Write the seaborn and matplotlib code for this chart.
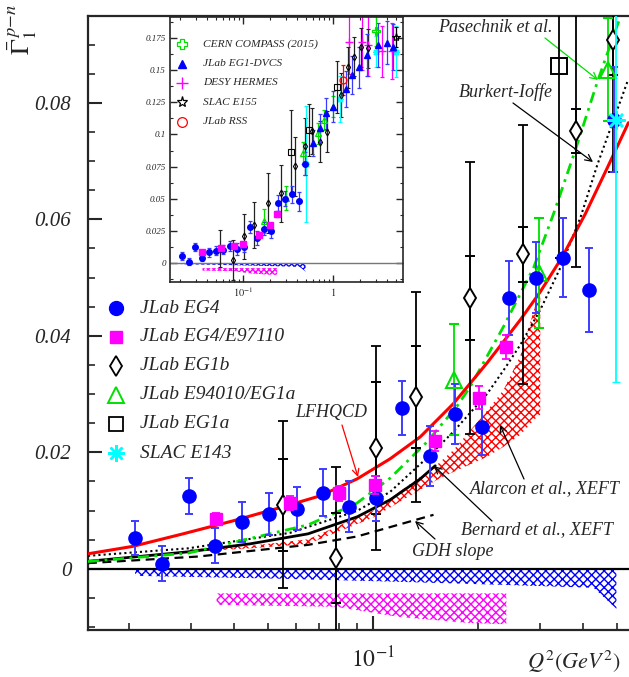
import numpy as np
import pandas as pd
import matplotlib
matplotlib.use("Agg")
import matplotlib.pyplot as plt
from matplotlib.ticker import FixedLocator, FixedFormatter, NullFormatter
from matplotlib.lines import Line2D
import seaborn as sns

# ---------------- main-plot data ----------------
eg4_x = [0.0208, 0.0249, 0.0297, 0.0352, 0.0421, 0.0503, 0.0603, 0.0716, 0.0855, 0.102,
         0.121, 0.145, 0.172, 0.205, 0.245, 0.293, 0.349, 0.416, 0.490]
eg4_y = [0.0053, 0.0009, 0.0125, 0.0040, 0.0080, 0.0094, 0.0103, 0.0131, 0.0107, 0.0121,
         0.0276, 0.0194, 0.0266, 0.0244, 0.0465, 0.0500, 0.0534, 0.0478, 0.0771]
eg4_e = [0.0029, 0.0030, 0.0031, 0.0030, 0.0034, 0.0036, 0.0037, 0.0040, 0.0043, 0.0039,
         0.0046, 0.0052, 0.0051, 0.0048, 0.0063, 0.0061, 0.0068, 0.0072, 0.0090]

e97_x = [0.0354, 0.0576, 0.080, 0.1015, 0.1505, 0.2008, 0.240]
e97_y = [0.0085, 0.0113, 0.0130, 0.0144, 0.0220, 0.0294, 0.0381]
e97_e = [0.0010, 0.0012, 0.0013, 0.0015, 0.0017, 0.0019, 0.0021]

eg1b_x = [0.0552, 0.0783, 0.102, 0.1328, 0.1888, 0.2682, 0.3817, 0.485]
eg1b_y = [0.0110, 0.0019, 0.0207, 0.0295, 0.0465, 0.0540, 0.0751, 0.0907]
eg1b_stat = [0.0079, 0.0077, 0.0113, 0.0088, 0.0072, 0.0047, 0.0038, 0.0060]
eg1b_tot = [0.0143, 0.0156, 0.0175, 0.0181, 0.0234, 0.0222, 0.0233, 0.0225]

e94010_x = [0.1707, 0.299, 0.469]
e94010_y = [0.0325, 0.0508, 0.0857]
e94010_e = [0.0096, 0.0094, 0.0088]

eg1a_x = [0.3396]
eg1a_y = [0.0864]
eg1a_e = [0.033]

e143_x = [0.497]
e143_y = [0.0771]
e143_e = [0.045]

# ---------------- theory curves ----------------
lf_x = [0.01525, 0.0205, 0.02855, 0.0397, 0.0552, 0.0705, 0.0900, 0.1118, 0.1364, 0.1695,
        0.2120, 0.2638, 0.3009, 0.3479, 0.4050, 0.4681, 0.538]
lf_y = [0.00258, 0.00386, 0.00601, 0.00824, 0.01065, 0.01253, 0.01545, 0.01889, 0.02266, 0.02833,
        0.03537, 0.04275, 0.04756, 0.05357, 0.06095, 0.06885, 0.07658]

bern_x = [0.01525, 0.02951, 0.0444, 0.0651, 0.0900, 0.1118, 0.1364, 0.1505]
bern_y = [0.00129, 0.00292, 0.00429, 0.00601, 0.00893, 0.01185, 0.01545, 0.01769]

gdh_x = [0.01525, 0.0315, 0.0651, 0.0898, 0.1488]
gdh_y = [0.00098, 0.00211, 0.00412, 0.00555, 0.00927]

pas_x = [0.01525, 0.02951, 0.0651, 0.0898, 0.1118, 0.1416, 0.1737, 0.1897, 0.2362, 0.2879,
         0.3286, 0.3792, 0.4383, 0.5102]
pas_y = [0.00125, 0.0027, 0.00755, 0.01128, 0.01557, 0.0216, 0.0279, 0.0313, 0.0416, 0.0517,
         0.0610, 0.0719, 0.0836, 0.0948]

bi_x = [0.01525, 0.02951, 0.0578, 0.0900, 0.1118, 0.1457, 0.1695, 0.2120, 0.2388, 0.2638,
        0.3009, 0.3434, 0.3919, 0.4383, 0.5343]
bi_y = [0.00223, 0.00352, 0.00618, 0.00996, 0.01322, 0.01957, 0.02352, 0.03005, 0.03451, 0.03846,
        0.04447, 0.05168, 0.06027, 0.06937, 0.08362]

al_x = [0.0299, 0.0444, 0.0651, 0.100, 0.1522, 0.1699, 0.2118, 0.2362, 0.2638, 0.2945, 0.3009]
al_hi = [0.00335, 0.00395, 0.00507, 0.0100, 0.01786, 0.02043, 0.02713, 0.03073, 0.03657, 0.04619, 0.05134]
al_lo = [0.00292, 0.00352, 0.00429, 0.0088, 0.01528, 0.01665, 0.01923, 0.02095, 0.0230, 0.0261, 0.02644]

# systematic-uncertainty bands
eg4_sys_x = [0.0208, 0.0545, 0.1179, 0.2339, 0.4278, 0.497]
eg4_sys_hi = [-0.0002, -0.0002, -0.0002, -0.0002, -0.0002, -0.0002]
eg4_sys_lo = [-0.0012, -0.0017, -0.00223, -0.00275, -0.00326, -0.00687]
e97_sys_x = [0.0356, 0.0783, 0.1179, 0.1859, 0.2405]
e97_sys_hi = [-0.00421, -0.00421, -0.00421, -0.00421, -0.00421]
e97_sys_lo = [-0.00618, -0.00652, -0.00824, -0.00927, -0.00953]

# ---------------- inset extra data ----------------
compass_x = [3.0]; compass_y = [0.181]; compass_e = [0.012]
dvcs_x = [0.605, 0.717, 0.829, 1.0, 1.383, 1.612, 1.961, 2.366, 3.187, 3.94, 4.68]
dvcs_y = [0.0936, 0.1048, 0.1165, 0.1217, 0.1352, 0.1464, 0.1524, 0.162, 0.1698, 0.1716, 0.1685]
dvcs_e = [0.010, 0.011, 0.012, 0.012, 0.014, 0.015, 0.016, 0.016, 0.017, 0.017, 0.018]
hermes_x = [1.5, 2.1, 2.47, 3.47, 4.49]
hermes_y = [0.172, 0.172, 0.170, 0.165, 0.165]
hermes_e = [0.025, 0.022, 0.024, 0.020, 0.022]
e155_x = [5.0]; e155_y = [0.176]; e155_e = [0.008]
rss_x = [1.28]; rss_y = [0.1425]; rss_e = [0.012]
eg1b_hi_x = [0.589, 0.717, 0.85, 1.217, 1.455, 1.726, 2.046, 2.47]
eg1b_hi_y = [0.1027, 0.0944, 0.1022, 0.1308, 0.1524, 0.1607, 0.168, 0.1672]
eg1b_hi_e = [0.018, 0.016, 0.016, 0.017, 0.016, 0.015, 0.015, 0.015]
eg1a_hi_x = [0.541, 1.1]; eg1a_hi_y = [0.1035, 0.137]; eg1a_hi_e = [0.02, 0.02]
e94010_hi_x = [0.676, 0.80, 0.99]; e94010_hi_y = [0.1009, 0.1113, 0.1217]; e94010_hi_e = [0.008, 0.008, 0.008]
e143_hi_x = [1.196, 3.0, 4.97]; e143_hi_y = [0.1274, 0.1646, 0.1646]; e143_hi_e = [0.018, 0.012, 0.02]

# ---------------- style ----------------
sns.set_style("ticks")
plt.rcParams['font.family'] = ['Liberation Serif', 'DejaVu Serif']
plt.rcParams['mathtext.fontset'] = 'stix'
plt.rcParams['hatch.linewidth'] = 1.0

W, H = 629, 677
fig = plt.figure(figsize=(W / 100, H / 100), dpi=100)

def fpx(x, y):
    return (x / W, 1 - y / H)

BLUE = '#0000ff'; EBLUE = '#3c3cff'; MAG = '#ff00ff'; GRN = '#00e000'; CYAN = '#00ffff'
AST = (8, 2, 0)

ax = fig.add_axes([88 / W, 47 / H, 541 / W, 614 / H])
ax.set_xscale('log')
ax.set_xlim(0.01525, 0.54)
ax.set_ylim(-0.0105, 0.0949)

# bands
ax.fill_between(al_x, al_lo, al_hi, facecolor='none', edgecolor='red', hatch='xxxx', linewidth=0, zorder=2)
ax.fill_between(eg4_sys_x, eg4_sys_lo, eg4_sys_hi, facecolor='none', edgecolor=BLUE, hatch='xxxx', linewidth=0, zorder=2)
ax.fill_between(e97_sys_x, e97_sys_lo, e97_sys_hi, facecolor='none', edgecolor=MAG, hatch='xxxx', linewidth=0, zorder=2)

ax.axhline(0, color='black', lw=1.6, zorder=3)

# theory curves (seaborn)
sns.lineplot(x=gdh_x, y=gdh_y, ax=ax, color='black', lw=1.6, linestyle=(0, (4, 2.5)), sort=False, estimator=None, zorder=3)
sns.lineplot(x=bern_x, y=bern_y, ax=ax, color='black', lw=2.0, sort=False, estimator=None, zorder=3)
sns.lineplot(x=bi_x, y=bi_y, ax=ax, color='black', lw=1.5, linestyle=(0, (1, 1.5)), sort=False, estimator=None, zorder=3)
sns.lineplot(x=pas_x, y=pas_y, ax=ax, color=GRN, lw=2.0, linestyle=(0, (4, 2, 1, 2)), sort=False, estimator=None, zorder=3)
sns.lineplot(x=lf_x, y=lf_y, ax=ax, color='red', lw=2.2, sort=False, estimator=None, zorder=4)

# data
ax.errorbar(eg1b_x, eg1b_y, yerr=eg1b_tot, fmt='none', ecolor='black', elinewidth=1.3, capsize=3.5, capthick=1.3, zorder=5)
ax.errorbar(eg1b_x, eg1b_y, yerr=eg1b_stat, fmt='d', color='black', mfc='white', mec='black', mew=1.4, ms=10,
            ecolor='black', elinewidth=1.3, capsize=3.5, capthick=1.3, zorder=6)
ax.errorbar(eg1a_x, eg1a_y, yerr=eg1a_e, fmt='s', mfc='none', mec='black', mew=1.4, ms=11,
            ecolor='black', elinewidth=1.3, capsize=3, zorder=5)
ax.errorbar(e143_x, e143_y, yerr=e143_e, fmt='none', ecolor=CYAN, elinewidth=1.3, capsize=3, zorder=7)
ax.plot(e143_x, e143_y, linestyle='none', marker=AST, color=CYAN, ms=13, mew=1.8, zorder=8)
ax.errorbar(e94010_x, e94010_y, yerr=e94010_e, fmt='^', mfc='none', mec=GRN, mew=1.5, ms=11,
            ecolor=GRN, elinewidth=1.3, capsize=3.5, capthick=1.3, zorder=6)
ax.errorbar(eg4_x, eg4_y, yerr=eg4_e, fmt='o', color=BLUE, ms=9.5, ecolor=EBLUE, elinewidth=1.4,
            capsize=3, capthick=1.4, zorder=6)
ax.errorbar(e97_x, e97_y, yerr=e97_e, fmt='s', color=MAG, ms=9, ecolor=MAG, elinewidth=1.3,
            capsize=3, capthick=1.3, zorder=7)

# axes cosmetics
for s in ['left', 'bottom', 'top']:
    ax.spines[s].set_linewidth(1.6)
ax.spines['right'].set_visible(False)
ax.set_yticks([0, 0.02, 0.04, 0.06, 0.08])
ax.set_yticklabels(['0', '0.02', '0.04', '0.06', '0.08'], fontsize=15, fontstyle='italic')
ax.yaxis.set_minor_locator(FixedLocator(list(np.arange(-0.01, 0.095, 0.005))))
ax.xaxis.set_major_locator(FixedLocator([0.1]))
ax.xaxis.set_major_formatter(FixedFormatter([r'$\mathit{10^{-1}}$']))
ax.xaxis.set_minor_locator(FixedLocator([0.02, 0.03, 0.04, 0.05, 0.06, 0.07, 0.08, 0.09, 0.2, 0.3, 0.4, 0.5]))
ax.xaxis.set_minor_formatter(NullFormatter())
ax.tick_params(axis='both', which='major', direction='in', length=10, width=1.5, labelsize=15, top=False, right=False)
ax.tick_params(axis='both', which='minor', direction='in', length=5, width=1.2, top=False, right=False)
ax.tick_params(axis='y', which='major', pad=12)
ax.tick_params(axis='x', which='major', pad=12, labelsize=17)
ax.set_xlabel('')
ax.set_ylabel('')

# axis titles
fig.text(*fpx(527, 662), r'$Q^2(GeV^2)$', fontsize=16, ha='left', va='center')
fig.text(*fpx(23, 30), r'$\bar{\Gamma}_{1}^{\,p\mathrm{-}n}$', fontsize=19, rotation=90, ha='center', va='center')

# annotations
afont = dict(fontsize=13, fontstyle='italic')
def annot(text, tx, ty, ax0, ay0, ax1, ay1, color):
    fig.text(*fpx(tx, ty), text, ha='center', va='center', **afont)
    ax.annotate('', xy=fpx(ax1, ay1), xycoords='figure fraction', xytext=fpx(ax0, ay0),
                textcoords='figure fraction',
                arrowprops=dict(arrowstyle='->', color=color, lw=0.9, shrinkA=0, shrinkB=0, mutation_scale=12))

annot('Pasechnik et al.', 495, 28, 545, 38, 598, 80, GRN)
annot('Burkert-Ioffe', 506, 92, 513, 103, 593, 162, 'black')
annot('LFHQCD', 331, 413, 342, 425, 358, 477, 'red')
annot('Alarcon et al., XEFT', 545, 489, 524, 479, 500, 425, 'black')
annot('Bernard et al., XEFT', 537, 530, 492, 521, 434, 466, 'black')
annot('GDH slope', 453, 551, 435, 539, 415, 521, 'black')

# main legend (manual)
leg_items = [
    ('JLab EG4', dict(marker='o', color=BLUE, ms=10)),
    ('JLab EG4/E97110', dict(marker='s', color=MAG, ms=9)),
    ('JLab EG1b', dict(marker='d', mfc='white', mec='black', mew=1.3, ms=10)),
    ('JLab E94010/EG1a', dict(marker='^', mfc='none', mec=GRN, mew=1.4, ms=11)),
    ('JLab EG1a', dict(marker='s', mfc='none', mec='black', mew=1.3, ms=10)),
    ('SLAC E143', dict(marker=AST, color=CYAN, ms=12, mew=1.8)),
]
for i, (lab, kw) in enumerate(leg_items):
    yy = 308 + 29 * i
    fig.add_artist(Line2D([116 / W], [1 - yy / H], linestyle='none', transform=fig.transFigure, **kw))
    fig.text(140 / W, 1 - yy / H, lab, fontsize=14, fontstyle='italic', ha='left', va='center')

# ---------------- inset ----------------
axi = fig.add_axes([170 / W, 1 - 281.7 / H, 233 / W, 264.4 / H])
axi.set_xscale('log')
axi.set_xlim(0.0155, 6.0)
axi.set_ylim(-0.0148, 0.1914)
axi.fill_between(eg4_sys_x, eg4_sys_lo, eg4_sys_hi, facecolor='none', edgecolor=BLUE, hatch='xxxxxx', linewidth=0)
axi.fill_between(e97_sys_x, e97_sys_lo, e97_sys_hi, facecolor='none', edgecolor=MAG, hatch='xxxxxx', linewidth=0)
axi.axhline(0, color='#777777', lw=1.0)

ek = dict(elinewidth=0.9, capsize=1.5, capthick=0.9)
axi.errorbar(hermes_x, hermes_y, yerr=hermes_e, fmt='+', color=MAG, ms=6, ecolor=MAG, **ek)
axi.errorbar(eg1b_x + eg1b_hi_x, eg1b_y + eg1b_hi_y, yerr=eg1b_tot + eg1b_hi_e, fmt='d', mfc='none', mec='black',
             mew=0.8, ms=3.5, ecolor='#222222', **ek)
axi.errorbar(e143_x + e143_hi_x, e143_y + e143_hi_y, yerr=e143_e + e143_hi_e, fmt='none', ecolor=CYAN, **ek)
axi.plot(e143_x + e143_hi_x, e143_y + e143_hi_y, linestyle='none', marker=AST, color=CYAN, ms=5, mew=1.0)
axi.errorbar(eg1a_x + eg1a_hi_x, eg1a_y + eg1a_hi_y, yerr=eg1a_e + eg1a_hi_e, fmt='s', mfc='none', mec='black',
             mew=0.8, ms=5, ecolor='#222222', **ek)
axi.errorbar(e94010_x + e94010_hi_x, e94010_y + e94010_hi_y, yerr=e94010_e + e94010_hi_e, fmt='^', mfc='none',
             mec=GRN, mew=0.9, ms=5, ecolor=GRN, **ek)
axi.errorbar(dvcs_x, dvcs_y, yerr=dvcs_e, fmt='^', color=BLUE, ms=4, ecolor=EBLUE, **ek)
axi.errorbar(eg4_x, eg4_y, yerr=eg4_e, fmt='o', color=BLUE, ms=4, ecolor=EBLUE, **ek)
axi.errorbar(e97_x, e97_y, yerr=e97_e, fmt='s', color=MAG, ms=4, ecolor=MAG, **ek)
axi.errorbar(compass_x, compass_y, yerr=compass_e, fmt='P', mfc='none', mec=GRN, mew=0.9, ms=6, ecolor=GRN, **ek)
axi.errorbar(e155_x, e155_y, yerr=e155_e, fmt='*', mfc='none', mec='black', mew=0.8, ms=6, ecolor='black', **ek)
axi.errorbar(rss_x, rss_y, yerr=rss_e, fmt='o', mfc='none', mec='red', mew=0.9, ms=5, ecolor='red', **ek)

for s in axi.spines.values():
    s.set_linewidth(1.2)
axi.set_yticks([0, 0.025, 0.05, 0.075, 0.1, 0.125, 0.15, 0.175])
axi.set_yticklabels(['0', '0.025', '0.05', '0.075', '0.1', '0.125', '0.15', '0.175'], fontsize=6.5, fontstyle='italic')
axi.yaxis.set_minor_locator(FixedLocator(list(np.arange(-0.0125, 0.19, 0.0125))))
axi.xaxis.set_major_locator(FixedLocator([0.1, 1.0]))
axi.xaxis.set_major_formatter(FixedFormatter([r'$\mathit{10^{-1}}$', r'$\mathit{1}$']))
axi.xaxis.set_minor_locator(FixedLocator([0.02, 0.03, 0.04, 0.05, 0.06, 0.07, 0.08, 0.09,
                                          0.2, 0.3, 0.4, 0.5, 0.6, 0.7, 0.8, 0.9, 2, 3, 4, 5]))
axi.xaxis.set_minor_formatter(NullFormatter())
axi.tick_params(axis='both', which='major', direction='in', length=5, width=1.0, labelsize=6.5, top=True, right=True, pad=3)
axi.tick_params(axis='both', which='minor', direction='in', length=2.5, width=0.8, top=True, right=True)
axi.tick_params(axis='x', which='major', labelsize=7.5)
axi.set_xlabel(''); axi.set_ylabel('')

ins_items = [
    ('CERN COMPASS (2015)', dict(marker='P', mfc='none', mec=GRN, mew=0.9, ms=7)),
    ('JLab EG1-DVCS', dict(marker='^', color=BLUE, ms=6)),
    ('DESY HERMES', dict(marker='+', color=MAG, ms=8, mew=1.0)),
    ('SLAC E155', dict(marker='*', mfc='none', mec='black', mew=0.9, ms=8)),
    ('JLab RSS', dict(marker='o', mfc='none', mec='red', mew=0.9, ms=7)),
]
for i, (lab, kw) in enumerate(ins_items):
    yy = 44.3 + 19.3 * i
    fig.add_artist(Line2D([182 / W], [1 - yy / H], linestyle='none', transform=fig.transFigure, **kw))
    fig.text(203 / W, 1 - yy / H, lab, fontsize=8.2, fontstyle='italic', ha='left', va='center')

fig.savefig('out.png', dpi=100)
